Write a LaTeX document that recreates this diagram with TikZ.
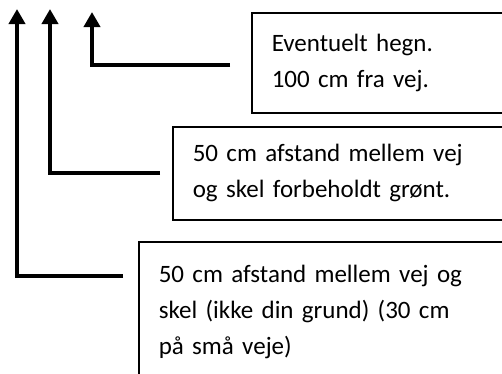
\documentclass[tikz,border=0pt]{standalone}
\usepackage{fontspec}
\setmainfont{Carlito}
\usepackage{tikz}
\usetikzlibrary{calc,arrows.meta}

\tikzset{
	notebox/.style={draw,line width=1.5bp,anchor=north west,align=left,text width=#1,inner xsep=20bp,inner ysep=0pt,font=\fontsize{25bp}{36bp}\selectfont},
	pointer/.style={line width=4bp,-{Triangle[width=16bp,length=15bp]}}
}

\begin{document}
\begin{tikzpicture}[x=1bp,y=-1bp]
				\useasboundingbox (0,0) rectangle (502,373);
				\clip (0,0) rectangle (502,373);
				%boxes
				\node[notebox=240bp,minimum height=100bp] (fence) at (251,12) {Eventuelt hegn.\\100 cm fra vej.};
				\node[notebox=320bp,minimum height=93bp] (green) at (172,126) {50 cm afstand mellem vej\\og skel forbeholdt grønt.};
				\node[notebox=340bp,minimum height=140bp] (road) at (138,241) {50 cm afstand mellem vej og\\skel (ikke din grund) (30 cm\\på små veje)};
				%tips
				\coordinate (tip1) at (92,12);
				\coordinate (tip2) at (50,9);
				\coordinate (tip3) at (17,9);
				%arrows
				\draw[pointer] ($(fence.north west)+(-21,53)$) -| (tip1);
				\draw[pointer] ($(green.north west)+(-12,47)$) -| (tip2);
				\draw[pointer] ($(road.north west)+(-15,35)$) -| (tip3);
\end{tikzpicture}
\end{document}
